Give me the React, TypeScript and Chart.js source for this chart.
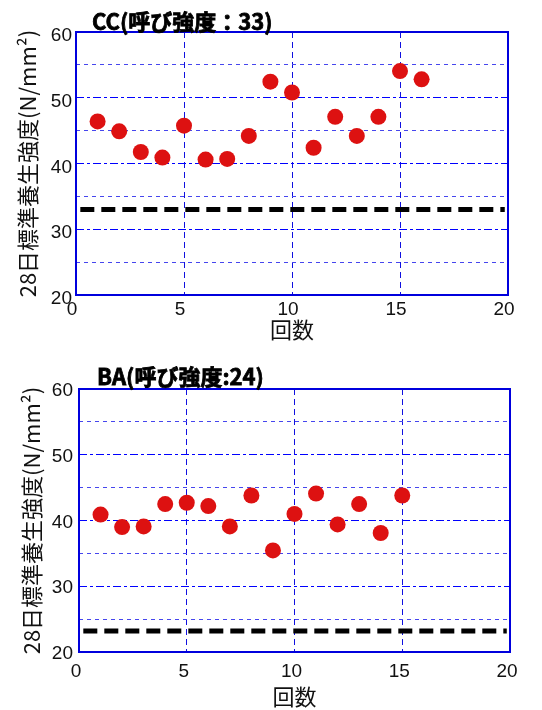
import React, { useEffect, useRef } from 'react';
import { Chart, registerables } from 'chart.js';

Chart.register(...registerables);

// ---- data ----
const ccRuns = [1, 2, 3, 4, 5, 6, 7, 8, 9, 10, 11, 12, 13, 14, 15, 16];
const ccStrength = [46.4, 44.9, 41.75, 40.9, 45.75, 40.6, 40.7, 44.2, 52.45, 50.8, 42.4, 47.1, 44.2, 47.1, 54.05, 52.8];
const ccSpec = 33;
const ccTitle = 'CC(呼び強度：33)';

const baRuns = [1, 2, 3, 4, 5, 6, 7, 8, 9, 10, 11, 12, 13, 14, 15];
const baStrength = [40.9, 39.0, 39.1, 42.5, 42.7, 42.2, 39.1, 43.8, 35.45, 41.0, 44.1, 39.4, 42.5, 38.1, 43.8];
const baSpec = 23.2;
const baTitle = 'BA(呼び強度:24)';

const specLineX = [0.2, 19.85];
const xMin = 0, xMax = 20, xStep = 5;
const yMin = 20, yMax = 60, yStep = 5, yLabelStep = 10;
const yAxisTitle = '28日標準養生強度(N/mm²)';
const xAxisTitle = '回数';

// ---- styles ----
const RED = '#dd1111';
const FRAME = '#0000dd';
const MAJOR_GRID = '#0000ff';
const MINOR_GRID = '#4646ee';
const XGRID = '#1010e0';
const CJK = '"Noto Sans CJK JP", "Noto Sans", sans-serif';
const LATIN = '"Liberation Sans", Arial, sans-serif';

type Layout = {
  height: number;
  padTop: number;
  padRight: number;
  padBottom: number;
  yWidth: number;
  xHeight: number;
  yTickPad: number;
  xTickPad: number;
  yTitlePad: number;
  yLabelOffset: number;
  xLabelOffset: number;
  titleX: number;
  titleY: number;
};

const cornerTitle = {
  id: 'cornerTitle',
  afterDraw(chart: any, _args: any, opts: any) {
    if (!opts || !opts.text) return;
    const ctx = chart.ctx;
    ctx.save();
    ctx.font = 'bold 22px ' + CJK;
    ctx.fillStyle = '#000';
    ctx.strokeStyle = '#000';
    ctx.lineWidth = 0.8;
    ctx.textAlign = 'left';
    ctx.textBaseline = 'middle';
    ctx.fillText(opts.text, opts.x, opts.y);
    ctx.strokeText(opts.text, opts.x, opts.y);
    ctx.restore();
  },
};

const frame = {
  id: 'frame',
  beforeDatasetsDraw(chart: any) {
    const { ctx, chartArea: a } = chart;
    ctx.save();
    ctx.strokeStyle = FRAME;
    ctx.lineWidth = 2;
    ctx.setLineDash([]);
    ctx.strokeRect(a.left, a.top, a.right - a.left, a.bottom - a.top);
    ctx.restore();
  },
};

function makeConfig(runs: number[], values: number[], spec: number, title: string, L: Layout): any {
  return {
    type: 'scatter',
    data: {
      datasets: [
        {
          type: 'line',
          data: specLineX.map((x) => ({ x, y: spec })),
          borderColor: '#000',
          borderWidth: 5,
          borderDash: [14, 7],
          borderCapStyle: 'butt',
          pointRadius: 0,
          showLine: true,
          fill: false,
        },
        {
          data: runs.map((r, i) => ({ x: r, y: values[i] })),
          backgroundColor: RED,
          borderColor: RED,
          borderWidth: 0,
          pointRadius: 8,
          pointHoverRadius: 8,
        },
      ],
    },
    options: {
      responsive: false,
      animation: false,
      devicePixelRatio: 1,
      layout: { padding: { top: L.padTop, right: L.padRight, bottom: L.padBottom, left: 0 } },
      plugins: {
        legend: { display: false },
        tooltip: { enabled: false },
        cornerTitle: { text: title, x: L.titleX, y: L.titleY },
      },
      scales: {
        x: {
          type: 'linear',
          min: xMin,
          max: xMax,
          afterFit: (s: any) => { s.height = L.xHeight; },
          ticks: {
            stepSize: xStep,
            padding: L.xTickPad,
            labelOffset: L.xLabelOffset,
            maxRotation: 0,
            color: '#111',
            font: { family: LATIN, size: 19 },
          },
          grid: { drawTicks: false, color: XGRID, lineWidth: 1 },
          border: { display: false, dash: [6, 4] },
          title: {
            display: true,
            text: xAxisTitle,
            color: '#111',
            font: { family: CJK, size: 22, lineHeight: 1.2 },
            padding: { top: 0, bottom: 0 },
          },
        },
        y: {
          type: 'linear',
          min: yMin,
          max: yMax,
          afterFit: (s: any) => { s.width = L.yWidth; },
          ticks: {
            stepSize: yStep,
            padding: L.yTickPad,
            labelOffset: L.yLabelOffset,
            color: '#111',
            font: { family: LATIN, size: 19 },
            callback: (v: any) => (Number(v) % yLabelStep === 0 ? String(v) : ''),
          },
          grid: {
            drawTicks: false,
            lineWidth: 1,
            color: (c: any) => (c.tick && c.tick.value % yLabelStep === 0 ? MAJOR_GRID : MINOR_GRID),
          },
          border: {
            display: false,
            dash: (c: any) => (c.tick && c.tick.value % yLabelStep === 0 ? [8, 3, 3, 3] : [4, 4]),
          },
          title: {
            display: true,
            text: yAxisTitle,
            color: '#111',
            font: { family: CJK, size: 22, lineHeight: 1.2 },
            padding: { top: L.yTitlePad, bottom: 0 },
          },
        },
      },
    },
    plugins: [frame, cornerTitle],
  };
}

const layoutCC: Layout = {
  height: 345, padTop: 32, padRight: 34, padBottom: 2, yWidth: 76, xHeight: 48,
  yTickPad: 4, xTickPad: 3, yTitlePad: 14, yLabelOffset: 4, xLabelOffset: -4,
  titleX: 92, titleY: 21.5,
};
const layoutBA: Layout = {
  height: 365, padTop: 44, padRight: 32, padBottom: 0, yWidth: 79, xHeight: 58,
  yTickPad: 6, xTickPad: 8, yTitlePad: 18, yLabelOffset: 2, xLabelOffset: -3,
  titleX: 97, titleY: 31.5,
};

function StrengthChart(props: { runs: number[]; values: number[]; spec: number; title: string; L: Layout }) {
  const ref = useRef<HTMLCanvasElement | null>(null);
  useEffect(() => {
    if (!ref.current) return;
    const chart = new Chart(ref.current, makeConfig(props.runs, props.values, props.spec, props.title, props.L));
    return () => chart.destroy();
  }, []);
  return (
    <canvas
      ref={ref}
      width={542}
      height={props.L.height}
      style={{ display: 'block', width: 542, height: props.L.height }}
    />
  );
}

export default function App() {
  return (
    <div style={{ position: 'absolute', left: 0, top: 0, width: 542, height: 710, background: '#fff' }}>
      <StrengthChart runs={ccRuns} values={ccStrength} spec={ccSpec} title={ccTitle} L={layoutCC} />
      <StrengthChart runs={baRuns} values={baStrength} spec={baSpec} title={baTitle} L={layoutBA} />
    </div>
  );
}
